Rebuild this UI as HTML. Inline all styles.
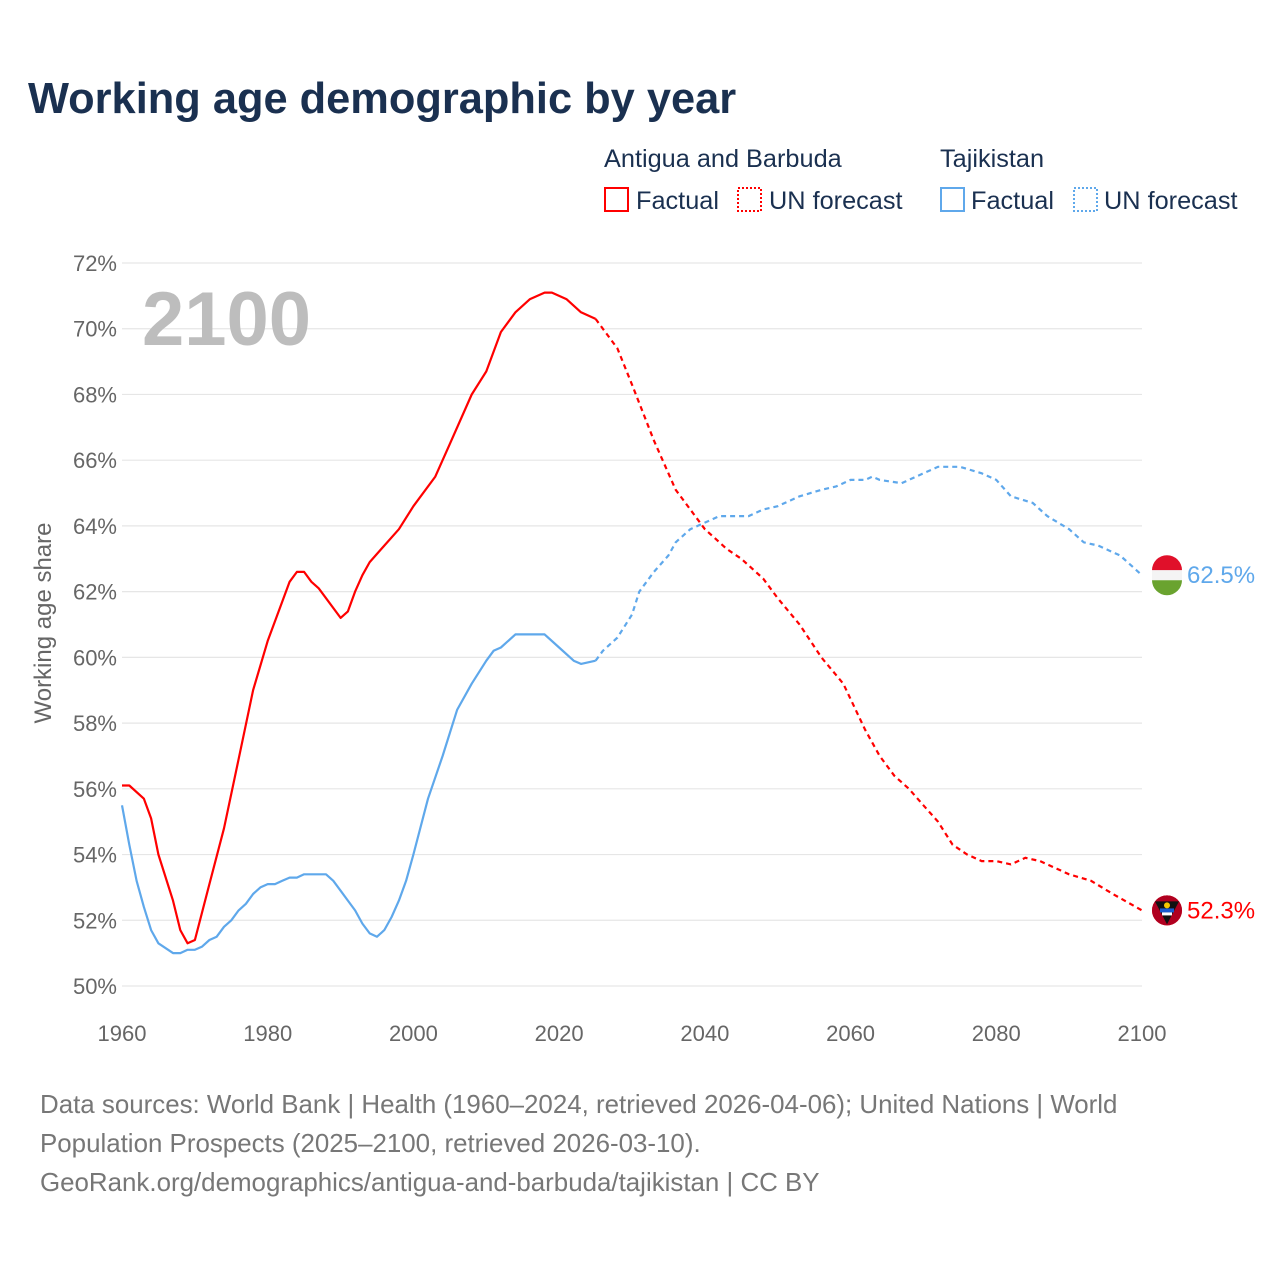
<!DOCTYPE html>
<html><head><meta charset="utf-8"><style>
body{margin:0;background:#fff;font-family:"Liberation Sans",sans-serif}
svg text{font-family:"Liberation Sans",sans-serif}
</style></head><body>
<svg id="chart" width="1280" height="1280" xmlns="http://www.w3.org/2000/svg">
<text x="28" y="113" font-size="43.4" font-weight="bold" fill="#1a3050">Working age demographic by year</text>
<g font-size="25.3" fill="#1a3050">
<text x="604" y="167">Antigua and Barbuda</text>
<text x="940" y="167">Tajikistan</text>
<g><rect x="605" y="188" width="23" height="23" fill="none" stroke="#f00" stroke-width="2"/><text x="636" y="209">Factual</text></g>
<g><rect x="738" y="188" width="23" height="23" fill="none" stroke="#f00" stroke-width="2" stroke-dasharray="2,2"/><text x="769" y="209">UN forecast</text></g>
<g><rect x="941" y="188" width="23" height="23" fill="none" stroke="#5fa8eb" stroke-width="2"/><text x="971" y="209">Factual</text></g>
<g><rect x="1074" y="188" width="23" height="23" fill="none" stroke="#5fa8eb" stroke-width="2" stroke-dasharray="2,2"/><text x="1104" y="209">UN forecast</text></g>
</g>
<g id="grid"></g>
<text x="142" y="345" font-size="76" font-weight="bold" fill="#bdbdbd">2100</text>
<text transform="translate(51,623) rotate(-90)" text-anchor="middle" font-size="24" fill="#666">Working age share</text>
<g id="series"></g>
<g font-size="25.9" fill="#777">
<text x="40" y="1113">Data sources: World Bank | Health (1960–2024, retrieved 2026-04-06); United Nations | World</text>
<text x="40" y="1152">Population Prospects (2025–2100, retrieved 2026-03-10).</text>
<text x="40" y="1191">GeoRank.org/demographics/antigua-and-barbuda/tajikistan | CC BY</text>
</g>
</svg>
<script>
const yTicks=[50,52,54,56,58,60,62,64,66,68,70,72];
const xTicks=[1960,1980,2000,2020,2040,2060,2080,2100];
const agYears=[1960,1961,1963,1964,1965,1967,1968,1969,1970,1972,1974,1976,1978,1980,1982,1983,1984,1985,1986,1987,1990,1991,1992,1993,1994,1996,1998,2000,2003,2005,2008,2010,2012,2014,2016,2018,2019,2021,2023,2025,2028,2030,2033,2036,2040,2043,2045,2048,2050,2053,2056,2059,2062,2064,2066,2068,2070,2072,2074,2076,2078,2080,2082,2084,2086,2088,2090,2093,2096,2100];
const agValues=[56.1,56.1,55.7,55.1,54.0,52.6,51.7,51.3,51.4,53.1,54.8,56.9,59.0,60.5,61.7,62.3,62.6,62.6,62.3,62.1,61.2,61.4,62.0,62.5,62.9,63.4,63.9,64.6,65.5,66.5,68.0,68.7,69.9,70.5,70.9,71.1,71.1,70.9,70.5,70.3,69.4,68.3,66.6,65.1,63.9,63.3,63.0,62.4,61.8,61.0,60.0,59.2,57.8,57.0,56.4,56.0,55.5,55.0,54.3,54.0,53.8,53.8,53.7,53.9,53.8,53.6,53.4,53.2,52.8,52.3];
const tjYears=[1960,1961,1962,1963,1964,1965,1966,1967,1968,1969,1970,1971,1972,1973,1974,1975,1976,1977,1978,1979,1980,1981,1982,1983,1984,1985,1988,1989,1990,1991,1992,1993,1994,1995,1996,1997,1998,1999,2000,2002,2004,2006,2008,2010,2011,2012,2014,2018,2020,2022,2023,2025,2026,2028,2030,2031,2033,2035,2036,2038,2040,2042,2046,2048,2050,2053,2056,2058,2060,2062,2063,2064,2067,2070,2072,2075,2078,2080,2082,2085,2087,2090,2092,2094,2097,2100];
const tjValues=[55.5,54.3,53.2,52.4,51.7,51.3,51.15,51.0,51.0,51.1,51.1,51.2,51.4,51.5,51.8,52.0,52.3,52.5,52.8,53.0,53.1,53.1,53.2,53.3,53.3,53.4,53.4,53.2,52.9,52.6,52.3,51.9,51.6,51.5,51.7,52.1,52.6,53.2,54.0,55.7,57.0,58.4,59.2,59.9,60.2,60.3,60.7,60.7,60.3,59.9,59.8,59.9,60.2,60.6,61.3,62.0,62.6,63.1,63.5,63.9,64.1,64.3,64.3,64.5,64.6,64.9,65.1,65.2,65.4,65.4,65.5,65.4,65.3,65.6,65.8,65.8,65.6,65.4,64.9,64.7,64.3,63.9,63.5,63.4,63.1,62.5];
const forecastStart=2025;
const NS="http://www.w3.org/2000/svg";
const X=y=>122+(y-1960)*(1020/140);
const Y=v=>986-(v-50)*(723/22);
function mk(tag,attrs,parent){const e=document.createElementNS(NS,tag);for(const k in attrs)e.setAttribute(k,attrs[k]);parent.appendChild(e);return e;}
const grid=document.getElementById('grid');
yTicks.forEach(t=>{
  const l=mk('line',{x1:122,x2:1142,y1:Y(t),y2:Y(t),stroke:'#e6e6e6','stroke-width':1.2},grid);
  
  
  const tx=mk('text',{x:117,y:Y(t)+8,'text-anchor':'end','font-size':22,fill:'#666'},grid);
  tx.textContent=t+'%';
  
  
});
xTicks.forEach(t=>{
  const tx=mk('text',{x:X(t),y:1041,'text-anchor':'middle','font-size':22,fill:'#666'},grid);
  tx.textContent=t;
  
  
});
const ser=document.getElementById('series');
function draw(years,vals,color,name){
  const f=[],p=[];
  years.forEach((y,i)=>{const pt=X(y).toFixed(1)+','+Y(vals[i]).toFixed(1);if(y<=forecastStart)f.push(pt);if(y>=forecastStart)p.push(pt);});
  const a=mk('polyline',{points:f.join(' '),fill:'none',stroke:color,'stroke-width':2.2,'stroke-linejoin':'round'},ser);
  
  
  const b=mk('polyline',{points:p.join(' '),fill:'none',stroke:color,'stroke-width':2.2,'stroke-dasharray':'5,4'},ser);
  
  
  const lv=vals[vals.length-1], cy=Y(lv);
  const c=mk('circle',{cx:1167,cy:cy,r:15,fill:color},ser);
  
  
  const t=mk('text',{x:1187,y:cy+8,'font-size':24,fill:color},ser);
  t.textContent=lv.toFixed(1)+'%';
  
  
  return c;
}
draw(agYears,agValues,'#ff0000','antigua');
const c2=draw(tjYears,tjValues,'#5fa8eb','tajikistan');
const ty=Y(tjValues[tjValues.length-1]);
const fl=mk('g',{},ser);


mk('path',{d:`M1152,${ty-5} A15,15 0 0 1 1182,${ty-5} Z`,fill:'#e0102a'},fl);
mk('rect',{x:1152,y:ty-5,width:30,height:10,fill:'#f4f4f4'},fl);
mk('path',{d:`M1152,${ty+5} A15,15 0 0 0 1182,${ty+5} Z`,fill:'#6aa32f'},fl);
c2.setAttribute('fill','#f4f4f4');
const ay=Y(agValues[agValues.length-1]);
const af=mk('g',{},ser);


mk('circle',{cx:1167,cy:ay,r:15,fill:'#b00020'},af);
mk('path',{d:`M1155,${ay-9} L1179,${ay-9} L1167,${ay+14} Z`,fill:'#111'},af);
mk('rect',{x:1160,y:ay-2,width:14,height:4,fill:'#1a5ad0'},af);
mk('rect',{x:1162,y:ay+2,width:10,height:3,fill:'#fff'},af);
mk('circle',{cx:1167,cy:ay-5,r:3,fill:'#f7c600'},af);
</script>
</body></html>
